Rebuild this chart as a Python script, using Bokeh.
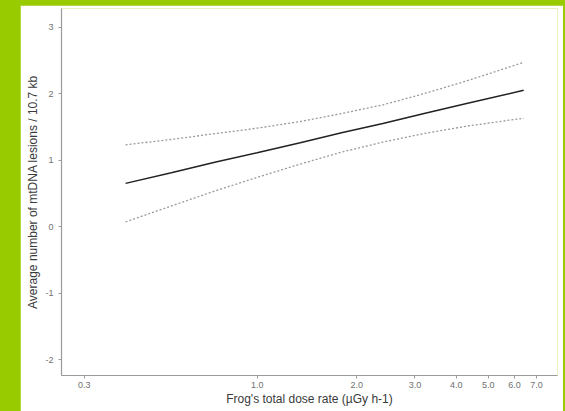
from bokeh.plotting import figure
from bokeh.layouts import column
from bokeh.models import Range1d, FixedTicker
from bokeh.embed import file_html
from bokeh.resources import INLINE

# data
dose = [0.4, 0.55, 0.75, 1.0, 1.35, 1.8, 2.4, 3.2, 4.3, 6.4]
fit = [0.65, 0.81, 0.97, 1.11, 1.26, 1.41, 1.55, 1.70, 1.85, 2.05]
upper = [1.23, 1.31, 1.40, 1.48, 1.58, 1.70, 1.83, 2.00, 2.19, 2.47]
lower = [0.07, 0.31, 0.54, 0.74, 0.94, 1.12, 1.27, 1.40, 1.51, 1.63]

x_ticks = [0.3, 1.0, 2.0, 3.0, 4.0, 5.0, 6.0, 7.0]
x_labels = ["0.3", "1.0", "2.0", "3.0", "4.0", "5.0", "6.0", "7.0"]
y_ticks = [-2, -1, 0, 1, 2, 3]
y_labels = ["-2", "-1", "0", "1", "2", "3"]

FONT = "Liberation Sans"

p = figure(width=543, height=406, x_axis_type="log",
           x_range=Range1d(0.256, 8.1), y_range=Range1d(-2.24, 3.28),
           output_backend="svg", toolbar_location=None,
           min_border_left=41, min_border_right=6, min_border_top=3,
           min_border_bottom=36, margin=(13, 2, 0, 28))
p.background_fill_color = "white"
p.border_fill_color = "white"
p.outline_line_color = None
p.grid.grid_line_color = None

p.line(dose, upper, line_color="#9a9a9a", line_width=1.3, line_dash="2 2")
p.line(dose, lower, line_color="#9a9a9a", line_width=1.3, line_dash="2 2")
p.line(dose, fit, line_color="#222222", line_width=1.5)

for ax in (p.xaxis[0], p.yaxis[0]):
    ax.axis_line_color = "#9a9a9a"
    ax.axis_line_width = 1.2
    ax.major_tick_line_color = "#9a9a9a"
    ax.major_tick_out = 3
    ax.major_tick_in = 0
    ax.minor_tick_line_color = None
    ax.major_label_text_font = FONT
    ax.major_label_text_font_size = "9px"
    ax.major_label_text_color = "#707070"
    ax.axis_label_text_font = FONT
    ax.axis_label_text_font_size = "12px"
    ax.axis_label_text_font_style = "normal"
    ax.axis_label_text_color = "#3a3a3a"

p.xaxis.ticker = FixedTicker(ticks=x_ticks)
p.xaxis.major_label_overrides = dict(zip(x_ticks, x_labels))
p.yaxis.ticker = FixedTicker(ticks=y_ticks)
p.yaxis.major_label_overrides = dict(zip(y_ticks, y_labels))
p.xaxis.axis_label = "Frog's total dose rate (µGy h-1)"
p.yaxis.axis_label = "Average number of mtDNA lesions / 10.7 kb"
p.xaxis.axis_label_standoff = 1
p.yaxis.axis_label_standoff = 2
p.xaxis.major_label_standoff = 3
p.yaxis.major_label_standoff = 5

layout = column(p, margin=(-8, -8, -8, -8),
                styles={"background-color": "#99cc00"})

open("out.html", "w").write(file_html(layout, INLINE))
